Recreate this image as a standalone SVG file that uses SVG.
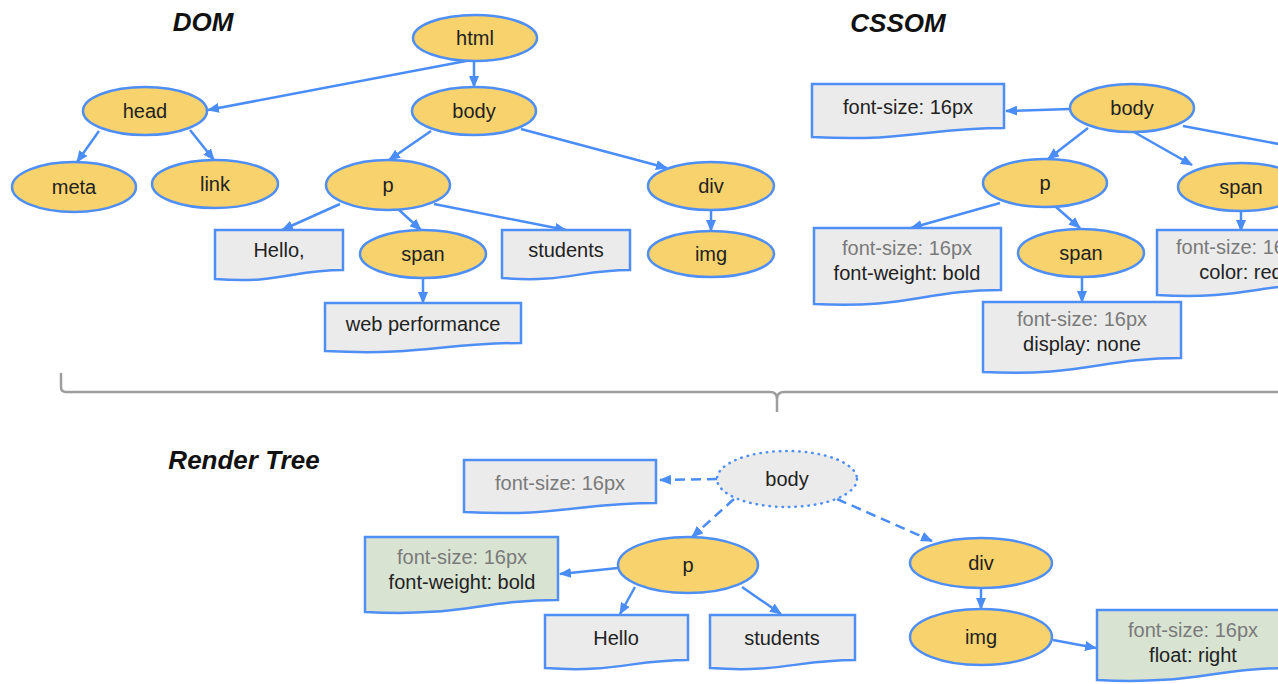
<svg xmlns="http://www.w3.org/2000/svg" width="1278" height="684" viewBox="0 0 1278 684">
<defs>
<style>
.n{fill:#f8d26c;stroke:#4f8ff5;stroke-width:2.5}
.dot{fill:#ebebeb;stroke:#4f8ff5;stroke-width:2.5;stroke-dasharray:0.5 6;stroke-linecap:round}
.d{fill:#ebebeb;stroke:#4f8ff5;stroke-width:2.5}
.g{fill:#d8e3d2;stroke:#4f8ff5;stroke-width:2.5}
.t{font-family:"Liberation Sans",Arial,sans-serif;font-size:20px;fill:#222;text-anchor:middle}
.gr{fill:#7a7a7a}
.h{font-family:"Liberation Sans",Arial,sans-serif;font-size:26px;font-weight:bold;font-style:italic;fill:#111;text-anchor:middle}
.e{fill:none;stroke:#4a8df7;stroke-width:2.5;marker-end:url(#a)}
.ed{fill:none;stroke:#4a8df7;stroke-width:2.5;stroke-dasharray:10 6;marker-end:url(#a)}
.br{fill:none;stroke:#9e9e9e;stroke-width:2.5}
</style>
<marker id="a" viewBox="0 0 12 10" refX="11" refY="5" markerWidth="12" markerHeight="10" markerUnits="userSpaceOnUse" orient="auto">
<path d="M0,0 L12,5 L0,10 z" fill="#4a8df7"/>
</marker>
</defs>
<rect width="1278" height="684" fill="#fff"/>

<g id="titles">
<text class="h" x="203" y="31">DOM</text>
<text class="h" x="898" y="32">CSSOM</text>
<text class="h" x="244" y="469">Render Tree</text>
</g>

<g id="connectors">
<path class="e" d="M466,61 L208,110"/>
<path class="e" d="M474,61 L474,87"/>
<path class="e" d="M99,131 L77,162"/>
<path class="e" d="M190,130 L214,160"/>
<path class="e" d="M431,131 L389,160"/>
<path class="e" d="M521,129 L667,168"/>
<path class="e" d="M340,204 L282,230"/>
<path class="e" d="M398,209 L421,230"/>
<path class="e" d="M434,204 L566,230"/>
<path class="e" d="M423,278 L423,303"/>
<path class="e" d="M711,210 L711,231"/>
<path class="e" d="M1070,109 L1006,111"/>
<path class="e" d="M1088,128 L1048,159"/>
<path class="e" d="M1134,132 L1192,165"/>
<path class="e" d="M1183,126 L1300,148"/>
<path class="e" d="M1000,203 L911,228"/>
<path class="e" d="M1056,207 L1080,228"/>
<path class="e" d="M1082,277 L1082,302"/>
<path class="e" d="M1241,211 L1241,231"/>
<path class="ed" d="M717,479 L660,480"/>
<path class="ed" d="M734,499 L692,537"/>
<path class="ed" d="M837,499 L932,541"/>
<path class="e" d="M618,568 L560,574"/>
<path class="e" d="M635,587 L620,614"/>
<path class="e" d="M742,587 L781,614"/>
<path class="e" d="M981,588 L981,609"/>
<path class="e" d="M1053,640 L1096,648"/>
</g>

<g id="brace">
<path class="br" d="M61,373 L61,387 Q61,392 66,392 L770,392 Q777,392 777,399 L777,412 M777,399 Q777,392 784,392 L1290,392"/>
</g>

<!-- DOM -->
<g id="dom-html"><ellipse class="n" cx="475" cy="38" rx="62" ry="23"/><text class="t" x="475" y="45">html</text></g>
<g id="dom-head"><ellipse class="n" cx="145" cy="111" rx="62" ry="24"/><text class="t" x="145" y="118">head</text></g>
<g id="dom-body"><ellipse class="n" cx="474" cy="111" rx="62" ry="24"/><text class="t" x="474" y="118">body</text></g>
<g id="dom-meta"><ellipse class="n" cx="74" cy="187" rx="62" ry="25"/><text class="t" x="74" y="194">meta</text></g>
<g id="dom-link"><ellipse class="n" cx="215" cy="184" rx="63" ry="24"/><text class="t" x="215" y="191">link</text></g>
<g id="dom-p"><ellipse class="n" cx="388" cy="185" rx="62" ry="25"/><text class="t" x="388" y="192">p</text></g>
<g id="dom-hello"><path class="d" d="M215,230 H343 V270 C292,270 279,284 215,279 Z"/><text class="t" x="279" y="257">Hello,</text></g>
<g id="dom-span"><ellipse class="n" cx="423" cy="254" rx="63" ry="24"/><text class="t" x="423" y="261">span</text></g>
<g id="dom-students"><path class="d" d="M502,230 H630 V270 C579,270 566,283 502,278 Z"/><text class="t" x="566" y="257">students</text></g>
<g id="dom-webperf"><path class="d" d="M325,303 H521 V343 C443,343 423,356 325,351 Z"/><text class="t" x="423" y="331">web performance</text></g>
<g id="dom-div"><ellipse class="n" cx="711" cy="186" rx="63" ry="24"/><text class="t" x="711" y="193">div</text></g>
<g id="dom-img"><ellipse class="n" cx="711" cy="254" rx="63" ry="23"/><text class="t" x="711" y="261">img</text></g>

<!-- CSSOM -->
<g id="css-fs"><path class="d" d="M812,84 H1004 V128 C927,128 908,142 812,137 Z"/><text class="t" x="908" y="114">font-size: 16px</text></g>
<g id="css-body"><ellipse class="n" cx="1132" cy="108" rx="62" ry="24"/><text class="t" x="1132" y="115">body</text></g>
<g id="css-p"><ellipse class="n" cx="1045" cy="183" rx="62" ry="24"/><text class="t" x="1045" y="190">p</text></g>
<g id="css-box1"><path class="d" d="M814,228 H1001 V290 C926,290 908,309 814,304 Z"/><text class="t gr" x="907" y="255">font-size: 16px</text><text class="t" x="907" y="280">font-weight: bold</text></g>
<g id="css-span"><ellipse class="n" cx="1081" cy="253" rx="63" ry="24"/><text class="t" x="1081" y="260">span</text></g>
<g id="css-box2"><path class="d" d="M983,302 H1181 V358 C1102,358 1082,377 983,372 Z"/><text class="t gr" x="1082" y="326">font-size: 16px</text><text class="t" x="1082" y="351">display: none</text></g>
<g id="css-span2"><ellipse class="n" cx="1241" cy="187" rx="63" ry="24"/><text class="t" x="1241" y="194">span</text></g>
<g id="css-box3"><path class="d" d="M1157,230 H1325 V284 C1258,284 1241,300 1157,295 Z"/><text class="t gr" x="1241" y="254">font-size: 16px</text><text class="t" x="1241" y="279">color: red</text></g>

<!-- Render Tree -->
<g id="rt-fs"><path class="d" d="M464,460 H656 V503 C579,503 560,517 464,512 Z"/><text class="t gr" x="560" y="490">font-size: 16px</text></g>
<g id="rt-body"><ellipse class="dot" cx="787" cy="479" rx="70" ry="28"/><text class="t" x="787" y="486">body</text></g>
<g id="rt-p"><ellipse class="n" cx="688" cy="565" rx="70" ry="28"/><text class="t" x="688" y="572">p</text></g>
<g id="rt-green1"><path class="g" d="M365,537 H558 V600 C481,600 462,617 365,612 Z"/><text class="t gr" x="462" y="564">font-size: 16px</text><text class="t" x="462" y="589">font-weight: bold</text></g>
<g id="rt-hello"><path class="d" d="M545,615 H688 V660 C631,660 616,673 545,668 Z"/><text class="t" x="616" y="645">Hello</text></g>
<g id="rt-students"><path class="d" d="M710,615 H855 V660 C797,660 782,673 710,668 Z"/><text class="t" x="782" y="645">students</text></g>
<g id="rt-div"><ellipse class="n" cx="981" cy="563" rx="71" ry="25"/><text class="t" x="981" y="570">div</text></g>
<g id="rt-img"><ellipse class="n" cx="981" cy="637" rx="71" ry="28"/><text class="t" x="981" y="644">img</text></g>
<g id="rt-green2"><path class="g" d="M1097,610 H1290 V668 C1213,668 1194,685 1097,680 Z"/><text class="t gr" x="1193" y="637">font-size: 16px</text><text class="t" x="1193" y="662">float: right</text></g>
</svg>
